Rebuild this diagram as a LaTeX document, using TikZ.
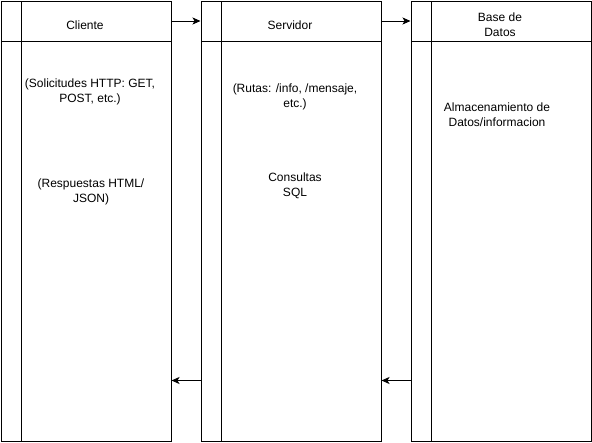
\documentclass[tikz,border=0pt]{standalone}
\usepackage{fontspec}
\setmainfont{Liberation Sans}
\usetikzlibrary{arrows.meta}

\begin{document}
\begin{tikzpicture}
            [x=1pt, y=-1pt, font=\fontsize{12}{15}\selectfont,
            % lane/.style={draw=black!75, thick, rounded corners},
            lane/.style={draw=black, line width=1pt, inner sep=0pt, anchor=north west, minimum height=440pt},
            lanehead/.style={lane, minimum height=40pt},
            lanecol/.style={lane, minimum width=20pt},
            lanetext/.style={align=center, inner sep=0pt},
            flow/.style={draw=black, line width=1pt, -{Stealth[length=8pt, width=7pt, inset=2pt]}}]
            \useasboundingbox (0,0) rectangle (592,442);
            % Cliente
            \node [lane, minimum width=170pt] (clilane) at (0.5,0.5) {};
            \node [lanehead, minimum width=170pt] (clihead) at (0.5,0.5) {};
            \node [lanecol] (clicol) at (0.5,0.5) {};
            \node [lanetext] (clititle) at (85,25) {Cliente};
            \node [lanetext] (solicitudes) at (90,92) {(Solicitudes HTTP: GET,\\POST, etc.)};
            \node [lanetext] (respuestas) at (91,192) {(Respuestas HTML/\\JSON)};
            % Servidor
            \node [lane, minimum width=180pt] (serlane) at (200.5,0.5) {};
            \node [lanehead, minimum width=180pt] (serhead) at (200.5,0.5) {};
            \node [lanecol] (sercol) at (200.5,0.5) {};
            \node [lanetext] (sertitle) at (290,25) {Servidor};
            \node [lanetext] (rutas) at (295,97) {(Rutas: /info, /mensaje,\\etc.)};
            \node [lanetext] (consultas) at (295,186) {Consultas\\SQL};
            % Base de Datos
            \node [lane, minimum width=180pt] (bdlane) at (410.5,0.5) {};
            \node [lanehead, minimum width=180pt] (bdhead) at (410.5,0.5) {};
            \node [lanecol] (bdcol) at (410.5,0.5) {};
            \node [lanetext] (bdtitle) at (500,25) {Base de\\Datos};
            \node [lanetext] (almacen) at (497,115) {Almacenamiento de\\Datos/informacion};
            % flechas
            \coordinate (retorno) at (0,380.5);
            \draw [flow] (clihead.east) -- (serhead.west);
            \draw [flow] (serhead.east) -- (bdhead.west);
            \draw [flow] (serlane.west |- retorno) -- (clilane.east |- retorno);
            \draw [flow] (bdlane.west |- retorno) -- (serlane.east |- retorno);
\end{tikzpicture}
\end{document}
